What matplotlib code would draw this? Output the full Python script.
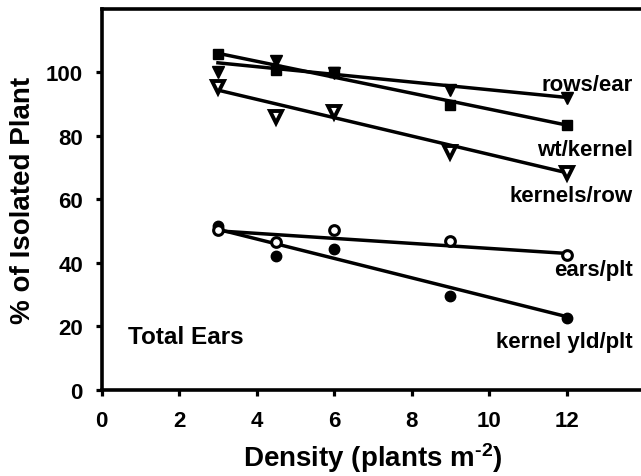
import numpy as np
import matplotlib
matplotlib.use("Agg")
import matplotlib.pyplot as plt

plt.rcParams["font.family"] = ["Liberation Sans", "DejaVu Sans"]
plt.rcParams["font.weight"] = "bold"
plt.rcParams["mathtext.fontset"] = "custom"
plt.rcParams["mathtext.rm"] = "Liberation Sans:bold"
plt.rcParams["mathtext.bf"] = "Liberation Sans:bold"
plt.rcParams["mathtext.it"] = "Liberation Sans:bold"

# plant density (plants m-2)
density = [3, 4.5, 6, 9, 12]

# % of isolated plant
rows_ear = [100.0, 103.4, 99.6, 94.3, 91.7]
wt_kernel = [105.8, 100.5, 100.0, 89.6, 83.3]
kernels_row = [95.3, 85.7, 87.5, 74.9, 68.1]
ears_plt = [50.2, 46.5, 50.4, 46.7, 42.5]
kernel_yld = [51.4, 42.0, 44.3, 29.5, 22.7]

# regression lines as drawn (value at density 3 and 12)
fit_x = [3, 12]
rows_ear_fit = [102.9, 92.0]
wt_kernel_fit = [105.9, 83.3]
kernels_row_fit = [94.3, 68.3]
ears_plt_fit = [50.0, 42.9]
kernel_yld_fit = [50.5, 23.0]

x_ticks = [0, 2, 4, 6, 8, 10, 12]
y_ticks = [0, 20, 40, 60, 80, 100]

fig = plt.figure(figsize=(6.41, 4.77), dpi=100)
ax = fig.add_axes([101.7 / 641, (477 - 390.7) / 477, 542.5 / 641, 381.2 / 477])

lw = 2.5
for fit in (rows_ear_fit, wt_kernel_fit, kernels_row_fit, ears_plt_fit, kernel_yld_fit):
    ax.plot(fit_x, fit, color="black", lw=lw, zorder=2)

ax.plot(density, kernel_yld, "o", ms=7.5, color="black", zorder=3)
ax.plot(density, ears_plt, "o", ms=7, mfc="white", mec="black", mew=2.2, zorder=4)
ax.plot(density, rows_ear, "v", ms=9, color="black", zorder=3)
ax.plot(density, wt_kernel, "s", ms=7.5, color="black", zorder=4)
ax.plot(density, kernels_row, "v", ms=9, mfc="white", mec="black", mew=2.8, zorder=3)

fs = 16
ax.text(13.7, 94.3, "rows/ear", ha="right", va="baseline", fontsize=fs, fontweight="bold")
ax.text(13.7, 73.9, "wt/kernel", ha="right", va="baseline", fontsize=fs, fontweight="bold")
ax.text(13.7, 59.3, "kernels/row", ha="right", va="baseline", fontsize=fs, fontweight="bold")
ax.text(13.7, 36.2, "ears/plt", ha="right", va="baseline", fontsize=fs, fontweight="bold")
ax.text(13.7, 13.4, "kernel yld/plt", ha="right", va="baseline", fontsize=fs, fontweight="bold")
ax.text(0.69, 14.6, "Total Ears", ha="left", va="baseline", fontsize=17.5, fontweight="bold")

ax.set_xlim(0, 14)
ax.set_ylim(0, 120)
ax.set_xticks(x_ticks)
ax.set_yticks(y_ticks)
ax.tick_params(axis="both", direction="out", length=4.5, width=2.3, labelsize=16)
ax.tick_params(axis="x", pad=10)
ax.tick_params(axis="y", pad=9)
for lab in ax.get_xticklabels() + ax.get_yticklabels():
    lab.set_fontweight("bold")

for side in ("left", "bottom", "top"):
    ax.spines[side].set_linewidth(2.6)
ax.spines["right"].set_visible(False)

ax.set_xlabel(r"Density (plants m$^{\text{-2}}$)", fontsize=20, fontweight="bold", labelpad=7)
ax.set_ylabel("% of Isolated Plant", fontsize=20, fontweight="bold", labelpad=7)

fig.savefig("out.png", dpi=100)
